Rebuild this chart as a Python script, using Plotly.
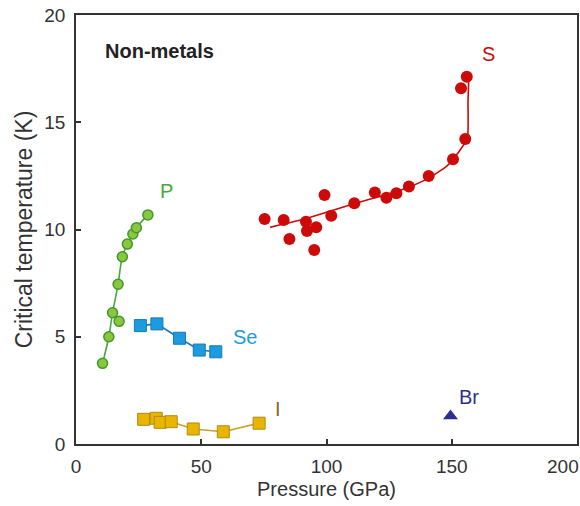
import plotly.graph_objects as go

# Superconducting Tc of non-metallic elements under pressure
P_p = [10.6, 13.1, 14.6, 17.2, 16.8, 18.5, 20.5, 22.7, 24.1, 28.7]
P_tc = [3.76, 5.0, 6.12, 5.72, 7.45, 8.73, 9.32, 9.79, 10.08, 10.68]
# trend line for P (the 17.2 GPa point sits off the curve)
P_fit_p = [10.6, 13.1, 14.6, 16.8, 18.5, 20.5, 22.7, 24.1, 28.7]
P_fit_tc = [3.76, 5.0, 6.12, 7.45, 8.73, 9.32, 9.79, 10.08, 10.68]

Se_p = [25.7, 32.3, 41.3, 49.2, 55.8]
Se_tc = [5.52, 5.6, 4.93, 4.38, 4.30]

I_p = [27.0, 32.0, 33.6, 38.0, 46.8, 58.8, 73.1]
I_tc = [1.15, 1.20, 1.01, 1.04, 0.70, 0.57, 0.97]

S_p = [75.3, 82.9, 85.2, 91.8, 92.2, 95.9, 95.1, 99.2, 101.9, 111.1,
       119.3, 123.9, 127.9, 132.9, 140.8, 150.5, 155.4, 153.7, 156.0]
S_tc = [10.49, 10.44, 9.56, 10.36, 9.93, 10.10, 9.04, 11.61, 10.64, 11.22,
        11.72, 11.48, 11.69, 12.0, 12.49, 13.27, 14.22, 16.58, 17.12]
# trend line for S
S_fit_p = [77.5, 90, 100, 111, 120, 130, 140, 148, 153, 156.2, 156.5, 156.8]
S_fit_tc = [10.1, 10.45, 10.8, 11.2, 11.5, 11.85, 12.35, 12.95, 13.65, 14.25, 16.0, 17.1]

Br_p = [149.5]
Br_tc = [1.3]

x_ticks = [0, 50, 100, 150, 200]
x_ticktext = ["0", "50", "100", "150", ""]   # last label is placed separately so it stays on the page
y_ticks = [0, 5, 10, 15, 20]

FONT = "Liberation Sans, Arial, sans-serif"
GREEN_LINE = "#4aa83a"
GREEN_FILL = "#8cc63e"
GREEN_EDGE = "#3f9a2c"
BLUE = "#1d9be0"
BLUE_EDGE = "#1578b8"
GOLD = "#e9b500"
GOLD_EDGE = "#b08a10"
GOLD_LINE = "#c9a02a"
RED = "#cc0a0a"
NAVY = "#2c2f8f"
INK = "#333333"

fig = go.Figure()

fig.add_trace(go.Scatter(x=P_fit_p, y=P_fit_tc, mode="lines",
                         line=dict(color=GREEN_LINE, width=1.6, shape="spline"),
                         hoverinfo="skip"))
fig.add_trace(go.Scatter(x=P_p, y=P_tc, mode="markers",
                         marker=dict(symbol="circle", size=10, color=GREEN_FILL,
                                     line=dict(color=GREEN_EDGE, width=1.5))))

fig.add_trace(go.Scatter(x=Se_p, y=Se_tc, mode="lines+markers",
                         line=dict(color=BLUE_EDGE, width=1.6),
                         marker=dict(symbol="square", size=12, color=BLUE,
                                     line=dict(color=BLUE_EDGE, width=1))))

fig.add_trace(go.Scatter(x=I_p, y=I_tc, mode="lines+markers",
                         line=dict(color=GOLD_LINE, width=1.6),
                         marker=dict(symbol="square", size=12, color=GOLD,
                                     line=dict(color=GOLD_EDGE, width=1))))

fig.add_trace(go.Scatter(x=S_fit_p, y=S_fit_tc, mode="lines",
                         line=dict(color=RED, width=1.6, shape="spline", smoothing=0.6),
                         hoverinfo="skip"))
fig.add_trace(go.Scatter(x=S_p, y=S_tc, mode="markers",
                         marker=dict(symbol="circle", size=12, color=RED)))

fig.add_trace(go.Scatter(x=Br_p, y=Br_tc, mode="markers",
                         marker=dict(symbol="triangle-up", size=13, color=NAVY)))

labels = [
    ("P", 36.0, 11.8, GREEN_LINE),
    ("Se", 67.5, 5.0, BLUE),
    ("I", 80.5, 1.62, "#8a6a1a"),
    ("S", 164.5, 18.2, RED),
    ("Br", 157.0, 2.2, NAVY),
]
for txt, xv, yv, col in labels:
    fig.add_annotation(x=xv, y=yv, text=txt, showarrow=False,
                       font=dict(size=20, color=col, family=FONT))

fig.add_annotation(x=0.054, y=0.915, xref="paper", yref="paper", text="<b>Non-metals</b>",
                   showarrow=False, xanchor="left", yanchor="middle",
                   font=dict(size=20, color="#222222", family=FONT))

# right-most x tick label, anchored to its right edge
fig.add_annotation(x=x_ticks[-1], y=0, xref="x", yref="paper", text=str(x_ticks[-1]),
                   showarrow=False, xanchor="right", yanchor="top", xshift=4, yshift=-10,
                   font=dict(size=19, color=INK, family=FONT))

axis_common = dict(showline=True, linecolor=INK, linewidth=1.5, mirror=True,
                   ticks="inside", ticklen=5, tickwidth=1.5, tickcolor=INK,
                   showgrid=False, zeroline=False, automargin=False,
                   tickfont=dict(size=19, color=INK, family=FONT))

fig.update_xaxes(range=[0, 200], tickvals=x_ticks, ticktext=x_ticktext, ticklabelstandoff=4,
                 title=dict(text="Pressure (GPa)", standoff=6,
                            font=dict(size=20, color=INK, family=FONT)),
                 **axis_common)
fig.update_yaxes(range=[0, 20], tickvals=y_ticks, ticklabelstandoff=5,
                 title=dict(text="Critical temperature (K)", standoff=5,
                            font=dict(size=23, color=INK, family=FONT)),
                 **axis_common)

fig.update_layout(width=580, height=506, showlegend=False,
                  plot_bgcolor="white", paper_bgcolor="white",
                  margin=dict(l=76, r=3, t=15, b=62))

fig.write_html("out.html")
